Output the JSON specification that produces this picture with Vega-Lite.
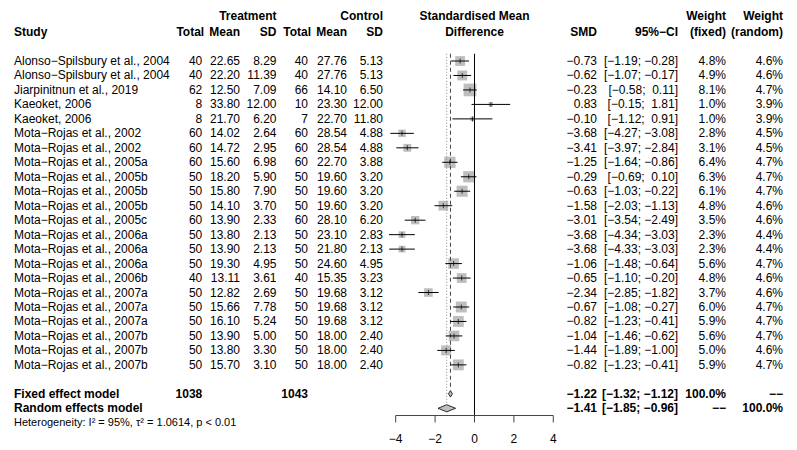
{
  "$schema": "https://vega.github.io/schema/vega-lite/v6.json",
  "width": 797,
  "height": 416,
  "padding": 0,
  "background": "white",
  "config": {
    "view": {"stroke": null},
    "text": {"font": "Liberation Sans", "fontSize": 12, "baseline": "middle", "color": "black"}
  },
  "datasets": {
    "studies": [
      {"row": 1, "study": "Alonso−Spilsbury et al., 2004", "t_n": 40, "t_mean": 22.65, "t_sd": 8.29, "c_n": 40, "c_mean": 27.76, "c_sd": 5.13, "smd": -0.73, "lower": -1.19, "upper": -0.28, "ci": "[−1.19; −0.28]", "w_fixed": 0.048, "w_random": 0.046},
      {"row": 2, "study": "Alonso−Spilsbury et al., 2004", "t_n": 40, "t_mean": 22.20, "t_sd": 11.39, "c_n": 40, "c_mean": 27.76, "c_sd": 5.13, "smd": -0.62, "lower": -1.07, "upper": -0.17, "ci": "[−1.07; −0.17]", "w_fixed": 0.049, "w_random": 0.046},
      {"row": 3, "study": "Jiarpinitnun et al., 2019", "t_n": 62, "t_mean": 12.50, "t_sd": 7.09, "c_n": 66, "c_mean": 14.10, "c_sd": 6.50, "smd": -0.23, "lower": -0.58, "upper": 0.11, "ci": "[−0.58;\u00a0\u00a00.11]", "w_fixed": 0.081, "w_random": 0.047},
      {"row": 4, "study": "Kaeoket, 2006", "t_n": 8, "t_mean": 33.80, "t_sd": 12.00, "c_n": 10, "c_mean": 23.30, "c_sd": 12.00, "smd": 0.83, "lower": -0.15, "upper": 1.81, "ci": "[−0.15;\u00a0\u00a01.81]", "w_fixed": 0.010, "w_random": 0.039},
      {"row": 5, "study": "Kaeoket, 2006", "t_n": 8, "t_mean": 21.70, "t_sd": 6.20, "c_n": 7, "c_mean": 22.70, "c_sd": 11.80, "smd": -0.10, "lower": -1.12, "upper": 0.91, "ci": "[−1.12;\u00a0\u00a00.91]", "w_fixed": 0.010, "w_random": 0.039},
      {"row": 6, "study": "Mota−Rojas et al., 2002", "t_n": 60, "t_mean": 14.02, "t_sd": 2.64, "c_n": 60, "c_mean": 28.54, "c_sd": 4.88, "smd": -3.68, "lower": -4.27, "upper": -3.08, "ci": "[−4.27; −3.08]", "w_fixed": 0.028, "w_random": 0.045},
      {"row": 7, "study": "Mota−Rojas et al., 2002", "t_n": 60, "t_mean": 14.72, "t_sd": 2.95, "c_n": 60, "c_mean": 28.54, "c_sd": 4.88, "smd": -3.41, "lower": -3.97, "upper": -2.84, "ci": "[−3.97; −2.84]", "w_fixed": 0.031, "w_random": 0.045},
      {"row": 8, "study": "Mota−Rojas et al., 2005a", "t_n": 60, "t_mean": 15.60, "t_sd": 6.98, "c_n": 60, "c_mean": 22.70, "c_sd": 3.88, "smd": -1.25, "lower": -1.64, "upper": -0.86, "ci": "[−1.64; −0.86]", "w_fixed": 0.064, "w_random": 0.047},
      {"row": 9, "study": "Mota−Rojas et al., 2005b", "t_n": 50, "t_mean": 18.20, "t_sd": 5.90, "c_n": 50, "c_mean": 19.60, "c_sd": 3.20, "smd": -0.29, "lower": -0.69, "upper": 0.10, "ci": "[−0.69;\u00a0\u00a00.10]", "w_fixed": 0.063, "w_random": 0.047},
      {"row": 10, "study": "Mota−Rojas et al., 2005b", "t_n": 50, "t_mean": 15.80, "t_sd": 7.90, "c_n": 50, "c_mean": 19.60, "c_sd": 3.20, "smd": -0.63, "lower": -1.03, "upper": -0.22, "ci": "[−1.03; −0.22]", "w_fixed": 0.061, "w_random": 0.047},
      {"row": 11, "study": "Mota−Rojas et al., 2005b", "t_n": 50, "t_mean": 14.10, "t_sd": 3.70, "c_n": 50, "c_mean": 19.60, "c_sd": 3.20, "smd": -1.58, "lower": -2.03, "upper": -1.13, "ci": "[−2.03; −1.13]", "w_fixed": 0.048, "w_random": 0.046},
      {"row": 12, "study": "Mota−Rojas et al., 2005c", "t_n": 60, "t_mean": 13.90, "t_sd": 2.33, "c_n": 60, "c_mean": 28.10, "c_sd": 6.20, "smd": -3.01, "lower": -3.54, "upper": -2.49, "ci": "[−3.54; −2.49]", "w_fixed": 0.035, "w_random": 0.046},
      {"row": 13, "study": "Mota−Rojas et al., 2006a", "t_n": 50, "t_mean": 13.80, "t_sd": 2.13, "c_n": 50, "c_mean": 23.10, "c_sd": 2.83, "smd": -3.68, "lower": -4.34, "upper": -3.03, "ci": "[−4.34; −3.03]", "w_fixed": 0.023, "w_random": 0.044},
      {"row": 14, "study": "Mota−Rojas et al., 2006a", "t_n": 50, "t_mean": 13.90, "t_sd": 2.13, "c_n": 50, "c_mean": 21.80, "c_sd": 2.13, "smd": -3.68, "lower": -4.33, "upper": -3.03, "ci": "[−4.33; −3.03]", "w_fixed": 0.023, "w_random": 0.044},
      {"row": 15, "study": "Mota−Rojas et al., 2006a", "t_n": 50, "t_mean": 19.30, "t_sd": 4.95, "c_n": 50, "c_mean": 24.60, "c_sd": 4.95, "smd": -1.06, "lower": -1.48, "upper": -0.64, "ci": "[−1.48; −0.64]", "w_fixed": 0.056, "w_random": 0.047},
      {"row": 16, "study": "Mota−Rojas et al., 2006b", "t_n": 40, "t_mean": 13.11, "t_sd": 3.61, "c_n": 40, "c_mean": 15.35, "c_sd": 3.23, "smd": -0.65, "lower": -1.10, "upper": -0.20, "ci": "[−1.10; −0.20]", "w_fixed": 0.048, "w_random": 0.046},
      {"row": 17, "study": "Mota−Rojas et al., 2007a", "t_n": 50, "t_mean": 12.82, "t_sd": 2.69, "c_n": 50, "c_mean": 19.68, "c_sd": 3.12, "smd": -2.34, "lower": -2.85, "upper": -1.82, "ci": "[−2.85; −1.82]", "w_fixed": 0.037, "w_random": 0.046},
      {"row": 18, "study": "Mota−Rojas et al., 2007a", "t_n": 50, "t_mean": 15.66, "t_sd": 7.78, "c_n": 50, "c_mean": 19.68, "c_sd": 3.12, "smd": -0.67, "lower": -1.08, "upper": -0.27, "ci": "[−1.08; −0.27]", "w_fixed": 0.060, "w_random": 0.047},
      {"row": 19, "study": "Mota−Rojas et al., 2007a", "t_n": 50, "t_mean": 16.10, "t_sd": 5.24, "c_n": 50, "c_mean": 19.68, "c_sd": 3.12, "smd": -0.82, "lower": -1.23, "upper": -0.41, "ci": "[−1.23; −0.41]", "w_fixed": 0.059, "w_random": 0.047},
      {"row": 20, "study": "Mota−Rojas et al., 2007b", "t_n": 50, "t_mean": 13.90, "t_sd": 5.00, "c_n": 50, "c_mean": 18.00, "c_sd": 2.40, "smd": -1.04, "lower": -1.46, "upper": -0.62, "ci": "[−1.46; −0.62]", "w_fixed": 0.056, "w_random": 0.047},
      {"row": 21, "study": "Mota−Rojas et al., 2007b", "t_n": 50, "t_mean": 13.80, "t_sd": 3.30, "c_n": 50, "c_mean": 18.00, "c_sd": 2.40, "smd": -1.44, "lower": -1.89, "upper": -1.00, "ci": "[−1.89; −1.00]", "w_fixed": 0.050, "w_random": 0.046},
      {"row": 22, "study": "Mota−Rojas et al., 2007b", "t_n": 50, "t_mean": 15.70, "t_sd": 3.10, "c_n": 50, "c_mean": 18.00, "c_sd": 2.40, "smd": -0.82, "lower": -1.23, "upper": -0.41, "ci": "[−1.23; −0.41]", "w_fixed": 0.059, "w_random": 0.047}
    ],
    "summary": [
      {"row": 24, "model": "Fixed effect model", "n_t": 1038, "n_c": 1043, "smd": -1.22, "lower": -1.32, "upper": -1.12, "ci": "[−1.32; −1.12]", "wf": "100.0%", "wr": "−−"},
      {"row": 25, "model": "Random effects model", "smd": -1.41, "lower": -1.85, "upper": -0.96, "ci": "[−1.85; −0.96]", "wf": "−−", "wr": "100.0%"}
    ],
    "axisrange": [{"from": -4, "to": 4}],
    "ticks": [{"v": -4}, {"v": -2}, {"v": 0}, {"v": 2}, {"v": 4}]
  },
  "resolve": {"scale": {"size": "independent"}},
  "layer": [
    {
      "data": {"name": "studies"},
      "mark": {"type": "square", "color": "#BEBEBE", "opacity": 1},
      "encoding": {
        "x": {"field": "smd", "type": "quantitative",
              "scale": {"domain": [-24.086, 16.371], "nice": false, "zero": false}, "axis": null},
        "y": {"field": "row", "type": "quantitative",
              "scale": {"domain": [-3.216, 25.533], "reverse": true, "nice": false, "zero": false}, "axis": null},
        "size": {"field": "w_fixed", "type": "quantitative", "scale": {"domain": [0, 0.1], "range": [0, 199]}, "legend": null}
      }
    },
    {
      "data": {"values": [{}]},
      "mark": {"type": "rule", "color": "black", "strokeWidth": 1},
      "encoding": {
        "x": {"datum": 0, "type": "quantitative", "axis": null},
        "y": {"datum": 0.5, "type": "quantitative", "axis": null},
        "y2": {"datum": 25.5}
      }
    },
    {
      "data": {"name": "axisrange"},
      "mark": {"type": "rule", "color": "#444", "strokeWidth": 1},
      "encoding": {
        "x": {"field": "from", "type": "quantitative", "axis": null},
        "x2": {"field": "to"},
        "y": {"datum": 25.5, "type": "quantitative", "axis": null}
      }
    },
    {
      "data": {"name": "ticks"},
      "mark": {"type": "rule", "color": "#444", "strokeWidth": 1},
      "encoding": {
        "x": {"field": "v", "type": "quantitative", "axis": null},
        "y": {"datum": 25.5, "type": "quantitative", "axis": null},
        "y2": {"datum": 25.98}
      }
    },
    {
      "data": {"name": "ticks"},
      "mark": {"type": "text", "align": "center"},
      "encoding": {
        "x": {"field": "v", "type": "quantitative", "axis": null},
        "y": {"datum": 27.12, "type": "quantitative", "axis": null},
        "text": {"field": "v", "type": "quantitative", "format": "d"}
      }
    },
    {
      "data": {"name": "summary"},
      "transform": [{"filter": "datum.model == 'Fixed effect model'"}],
      "mark": {"type": "rule", "color": "#444", "strokeWidth": 1, "strokeDash": [4, 3]},
      "encoding": {
        "x": {"field": "smd", "type": "quantitative", "axis": null},
        "y": {"datum": 0.5, "type": "quantitative", "axis": null},
        "y2": {"datum": 23.67}
      }
    },
    {
      "data": {"name": "summary"},
      "transform": [{"filter": "datum.model == 'Random effects model'"}],
      "mark": {"type": "rule", "color": "#888", "strokeWidth": 1, "strokeDash": [1, 2]},
      "encoding": {
        "x": {"field": "smd", "type": "quantitative", "axis": null},
        "y": {"datum": 0.5, "type": "quantitative", "axis": null},
        "y2": {"datum": 24.63}
      }
    },
    {
      "data": {"name": "studies"},
      "mark": {"type": "rule", "color": "black", "strokeWidth": 1},
      "encoding": {
        "x": {"field": "lower", "type": "quantitative", "axis": null},
        "x2": {"field": "upper"},
        "y": {"field": "row", "type": "quantitative", "axis": null}
      }
    },
    {
      "data": {"name": "studies"},
      "mark": {"type": "tick", "orient": "vertical", "size": 5, "thickness": 1, "color": "black"},
      "encoding": {
        "x": {"field": "smd", "type": "quantitative", "axis": null},
        "y": {"field": "row", "type": "quantitative", "axis": null}
      }
    },
    {
      "data": {"name": "summary"},
      "mark": {"type": "point", "filled": true, "fill": "#BEBEBE", "stroke": "black", "strokeWidth": 0.8, "opacity": 1, "size": 4},
      "encoding": {
        "x": {"field": "smd", "type": "quantitative", "axis": null},
        "y": {"field": "row", "type": "quantitative", "axis": null},
        "shape": {"field": "model", "type": "nominal", "legend": null,
                  "scale": {"domain": ["Fixed effect model", "Random effects model"],
                            "range": ["M-1.97,0L0,-3.2L1.97,0L0,3.2Z", "M-8.67,0L0,-3.6L8.87,0L0,3.6Z"]}}
      }
    },
    {
      "data": {"name": "studies"},
      "mark": {"type": "text", "align": "left"},
      "encoding": {"x": {"datum": -23.376, "type": "quantitative", "axis": null}, "y": {"field": "row", "type": "quantitative", "axis": null}, "text": {"field": "study"}}
    },
    {
      "data": {"name": "studies"},
      "mark": {"type": "text", "align": "right"},
      "encoding": {"x": {"datum": -13.817, "type": "quantitative", "axis": null}, "y": {"field": "row", "type": "quantitative", "axis": null}, "text": {"field": "t_n", "type": "quantitative", "format": "d"}}
    },
    {
      "data": {"name": "studies"},
      "mark": {"type": "text", "align": "right"},
      "encoding": {"x": {"datum": -11.904, "type": "quantitative", "axis": null}, "y": {"field": "row", "type": "quantitative", "axis": null}, "text": {"field": "t_mean", "type": "quantitative", "format": ".2f"}}
    },
    {
      "data": {"name": "studies"},
      "mark": {"type": "text", "align": "right"},
      "encoding": {"x": {"datum": -10.051, "type": "quantitative", "axis": null}, "y": {"field": "row", "type": "quantitative", "axis": null}, "text": {"field": "t_sd", "type": "quantitative", "format": ".2f"}}
    },
    {
      "data": {"name": "studies"},
      "mark": {"type": "text", "align": "right"},
      "encoding": {"x": {"datum": -8.452, "type": "quantitative", "axis": null}, "y": {"field": "row", "type": "quantitative", "axis": null}, "text": {"field": "c_n", "type": "quantitative", "format": "d"}}
    },
    {
      "data": {"name": "studies"},
      "mark": {"type": "text", "align": "right"},
      "encoding": {"x": {"datum": -6.472, "type": "quantitative", "axis": null}, "y": {"field": "row", "type": "quantitative", "axis": null}, "text": {"field": "c_mean", "type": "quantitative", "format": ".2f"}}
    },
    {
      "data": {"name": "studies"},
      "mark": {"type": "text", "align": "right"},
      "encoding": {"x": {"datum": -4.645, "type": "quantitative", "axis": null}, "y": {"field": "row", "type": "quantitative", "axis": null}, "text": {"field": "c_sd", "type": "quantitative", "format": ".2f"}}
    },
    {
      "data": {"name": "studies"},
      "mark": {"type": "text", "align": "right"},
      "encoding": {"x": {"datum": 6.218, "type": "quantitative", "axis": null}, "y": {"field": "row", "type": "quantitative", "axis": null}, "text": {"field": "smd", "type": "quantitative", "format": ".2f"}}
    },
    {
      "data": {"name": "studies"},
      "mark": {"type": "text", "align": "right"},
      "encoding": {"x": {"datum": 10.33, "type": "quantitative", "axis": null}, "y": {"field": "row", "type": "quantitative", "axis": null}, "text": {"field": "ci"}}
    },
    {
      "data": {"name": "studies"},
      "mark": {"type": "text", "align": "right"},
      "encoding": {"x": {"datum": 12.766, "type": "quantitative", "axis": null}, "y": {"field": "row", "type": "quantitative", "axis": null}, "text": {"field": "w_fixed", "type": "quantitative", "format": ".1%"}}
    },
    {
      "data": {"name": "studies"},
      "mark": {"type": "text", "align": "right"},
      "encoding": {"x": {"datum": 15.66, "type": "quantitative", "axis": null}, "y": {"field": "row", "type": "quantitative", "axis": null}, "text": {"field": "w_random", "type": "quantitative", "format": ".1%"}}
    },
    {
      "data": {"name": "summary"},
      "mark": {"type": "text", "align": "left", "fontWeight": "bold"},
      "encoding": {"x": {"datum": -23.376, "type": "quantitative", "axis": null}, "y": {"field": "row", "type": "quantitative", "axis": null}, "text": {"field": "model"}}
    },
    {
      "data": {"name": "summary"},
      "transform": [{"filter": "datum.model == 'Fixed effect model'"}],
      "mark": {"type": "text", "align": "right", "fontWeight": "bold"},
      "encoding": {"x": {"datum": -13.817, "type": "quantitative", "axis": null}, "y": {"field": "row", "type": "quantitative", "axis": null}, "text": {"field": "n_t", "type": "quantitative", "format": "d"}}
    },
    {
      "data": {"name": "summary"},
      "transform": [{"filter": "datum.model == 'Fixed effect model'"}],
      "mark": {"type": "text", "align": "right", "fontWeight": "bold"},
      "encoding": {"x": {"datum": -8.452, "type": "quantitative", "axis": null}, "y": {"field": "row", "type": "quantitative", "axis": null}, "text": {"field": "n_c", "type": "quantitative", "format": "d"}}
    },
    {
      "data": {"name": "summary"},
      "mark": {"type": "text", "align": "right", "fontWeight": "bold"},
      "encoding": {"x": {"datum": 6.218, "type": "quantitative", "axis": null}, "y": {"field": "row", "type": "quantitative", "axis": null}, "text": {"field": "smd", "type": "quantitative", "format": ".2f"}}
    },
    {
      "data": {"name": "summary"},
      "mark": {"type": "text", "align": "right", "fontWeight": "bold"},
      "encoding": {"x": {"datum": 10.33, "type": "quantitative", "axis": null}, "y": {"field": "row", "type": "quantitative", "axis": null}, "text": {"field": "ci"}}
    },
    {
      "data": {"name": "summary"},
      "mark": {"type": "text", "align": "right", "fontWeight": "bold"},
      "encoding": {"x": {"datum": 12.766, "type": "quantitative", "axis": null}, "y": {"field": "row", "type": "quantitative", "axis": null}, "text": {"field": "wf"}}
    },
    {
      "data": {"name": "summary"},
      "mark": {"type": "text", "align": "right", "fontWeight": "bold"},
      "encoding": {"x": {"datum": 15.66, "type": "quantitative", "axis": null}, "y": {"field": "row", "type": "quantitative", "axis": null}, "text": {"field": "wr"}}
    },
    {
      "data": {"values": [{}]},
      "mark": {"type": "text", "align": "left", "fontSize": 11},
      "encoding": {"x": {"datum": -23.376, "type": "quantitative", "axis": null}, "y": {"datum": 26.04, "type": "quantitative", "axis": null}, "text": {"value": "Heterogeneity: I² = 95%, τ² = 1.0614, p < 0.01"}}
    },
    {
      "data": {"values": [{}]},
      "mark": {"type": "text", "align": "right", "fontWeight": "bold"},
      "encoding": {"x": {"datum": -10.051, "type": "quantitative", "axis": null}, "y": {"datum": -2.11, "type": "quantitative", "axis": null}, "text": {"value": "Treatment"}}
    },
    {
      "data": {"values": [{}]},
      "mark": {"type": "text", "align": "right", "fontWeight": "bold"},
      "encoding": {"x": {"datum": -4.645, "type": "quantitative", "axis": null}, "y": {"datum": -2.11, "type": "quantitative", "axis": null}, "text": {"value": "Control"}}
    },
    {
      "data": {"values": [{}]},
      "mark": {"type": "text", "align": "center", "fontWeight": "bold"},
      "encoding": {"x": {"datum": 0, "type": "quantitative", "axis": null}, "y": {"datum": -2.11, "type": "quantitative", "axis": null}, "text": {"value": "Standardised Mean"}}
    },
    {
      "data": {"values": [{}]},
      "mark": {"type": "text", "align": "right", "fontWeight": "bold"},
      "encoding": {"x": {"datum": 12.766, "type": "quantitative", "axis": null}, "y": {"datum": -2.11, "type": "quantitative", "axis": null}, "text": {"value": "Weight"}}
    },
    {
      "data": {"values": [{}]},
      "mark": {"type": "text", "align": "right", "fontWeight": "bold"},
      "encoding": {"x": {"datum": 15.66, "type": "quantitative", "axis": null}, "y": {"datum": -2.11, "type": "quantitative", "axis": null}, "text": {"value": "Weight"}}
    },
    {
      "data": {"values": [{}]},
      "mark": {"type": "text", "align": "left", "fontWeight": "bold"},
      "encoding": {"x": {"datum": -23.376, "type": "quantitative", "axis": null}, "y": {"datum": -1.0, "type": "quantitative", "axis": null}, "text": {"value": "Study"}}
    },
    {
      "data": {"values": [{}]},
      "mark": {"type": "text", "align": "right", "fontWeight": "bold"},
      "encoding": {"x": {"datum": -13.72, "type": "quantitative", "axis": null}, "y": {"datum": -1.0, "type": "quantitative", "axis": null}, "text": {"value": "Total"}}
    },
    {
      "data": {"values": [{}]},
      "mark": {"type": "text", "align": "right", "fontWeight": "bold"},
      "encoding": {"x": {"datum": -11.904, "type": "quantitative", "axis": null}, "y": {"datum": -1.0, "type": "quantitative", "axis": null}, "text": {"value": "Mean"}}
    },
    {
      "data": {"values": [{}]},
      "mark": {"type": "text", "align": "right", "fontWeight": "bold"},
      "encoding": {"x": {"datum": -10.051, "type": "quantitative", "axis": null}, "y": {"datum": -1.0, "type": "quantitative", "axis": null}, "text": {"value": "SD"}}
    },
    {
      "data": {"values": [{}]},
      "mark": {"type": "text", "align": "right", "fontWeight": "bold"},
      "encoding": {"x": {"datum": -8.3, "type": "quantitative", "axis": null}, "y": {"datum": -1.0, "type": "quantitative", "axis": null}, "text": {"value": "Total"}}
    },
    {
      "data": {"values": [{}]},
      "mark": {"type": "text", "align": "right", "fontWeight": "bold"},
      "encoding": {"x": {"datum": -6.472, "type": "quantitative", "axis": null}, "y": {"datum": -1.0, "type": "quantitative", "axis": null}, "text": {"value": "Mean"}}
    },
    {
      "data": {"values": [{}]},
      "mark": {"type": "text", "align": "right", "fontWeight": "bold"},
      "encoding": {"x": {"datum": -4.645, "type": "quantitative", "axis": null}, "y": {"datum": -1.0, "type": "quantitative", "axis": null}, "text": {"value": "SD"}}
    },
    {
      "data": {"values": [{}]},
      "mark": {"type": "text", "align": "center", "fontWeight": "bold"},
      "encoding": {"x": {"datum": 0, "type": "quantitative", "axis": null}, "y": {"datum": -1.0, "type": "quantitative", "axis": null}, "text": {"value": "Difference"}}
    },
    {
      "data": {"values": [{}]},
      "mark": {"type": "text", "align": "right", "fontWeight": "bold"},
      "encoding": {"x": {"datum": 6.218, "type": "quantitative", "axis": null}, "y": {"datum": -1.0, "type": "quantitative", "axis": null}, "text": {"value": "SMD"}}
    },
    {
      "data": {"values": [{}]},
      "mark": {"type": "text", "align": "right", "fontWeight": "bold"},
      "encoding": {"x": {"datum": 10.33, "type": "quantitative", "axis": null}, "y": {"datum": -1.0, "type": "quantitative", "axis": null}, "text": {"value": "95%−CI"}}
    },
    {
      "data": {"values": [{}]},
      "mark": {"type": "text", "align": "right", "fontWeight": "bold"},
      "encoding": {"x": {"datum": 12.766, "type": "quantitative", "axis": null}, "y": {"datum": -1.0, "type": "quantitative", "axis": null}, "text": {"value": "(fixed)"}}
    },
    {
      "data": {"values": [{}]},
      "mark": {"type": "text", "align": "right", "fontWeight": "bold"},
      "encoding": {"x": {"datum": 15.66, "type": "quantitative", "axis": null}, "y": {"datum": -1.0, "type": "quantitative", "axis": null}, "text": {"value": "(random)"}}
    }
  ]
}
